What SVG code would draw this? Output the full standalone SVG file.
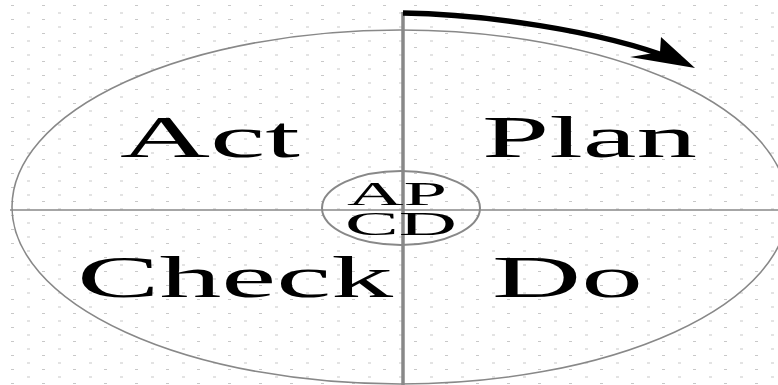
<svg xmlns="http://www.w3.org/2000/svg" width="778" height="385" viewBox="0 0 778 385">
<defs>
<pattern id="dots" x="0" y="0" width="31" height="14" patternUnits="userSpaceOnUse">
<rect x="27" y="12.5" width="3" height="1" fill="#c8c8c8"/>
<rect x="11" y="5" width="3" height="1" fill="#c8c8c8"/>
</pattern>
<style>
.big{font-family:"Liberation Serif","Times New Roman",serif;font-size:60px;fill:#000;}
.small{font-family:"Liberation Serif","Times New Roman",serif;font-size:34px;fill:#000;}
.gray{fill:none;stroke:#888;}
</style>
</defs>
<rect width="778" height="385" fill="#fff"/>
<rect width="778" height="385" fill="url(#dots)"/>
<g id="connectors">
<ellipse class="gray" cx="400" cy="207" rx="388" ry="177" stroke-width="1.6"/>
<line class="gray" x1="10" y1="210" x2="778" y2="210" stroke-width="1.6"/>
<line class="gray" x1="403" y1="12" x2="403" y2="385" stroke-width="3.5"/>
<ellipse class="gray" cx="401" cy="208" rx="79" ry="37" stroke-width="2"/>
<path d="M403,13 C480,14 600,30 676,60" fill="none" stroke="#000" stroke-width="5.5"/>
<polygon points="661,37 695,68 630,57 660,52" fill="#000"/>
</g>
<g id="act"><text class="big" x="120" y="157" textLength="180" lengthAdjust="spacingAndGlyphs">Act</text></g>
<g id="plan"><text class="big" x="482" y="157" textLength="215" lengthAdjust="spacingAndGlyphs">Plan</text></g>
<g id="check"><text class="big" x="77" y="297" textLength="316" lengthAdjust="spacingAndGlyphs">Check</text></g>
<g id="do"><text class="big" x="492" y="297" textLength="151" lengthAdjust="spacingAndGlyphs">Do</text></g>
<g id="center">
<text class="small" x="347" y="205" textLength="100" lengthAdjust="spacingAndGlyphs">AP</text>
<text class="small" x="345" y="235" textLength="112" lengthAdjust="spacingAndGlyphs">CD</text>
</g>
</svg>
